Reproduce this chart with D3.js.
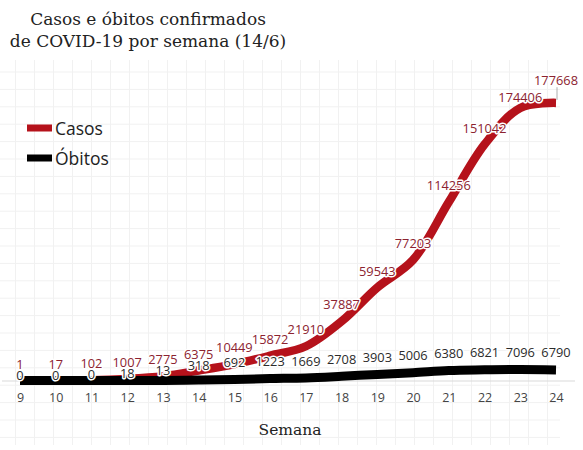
<!DOCTYPE html>
<html>
<head>
<meta charset="utf-8">
<script src="https://cdn.jsdelivr.net/npm/d3@7"></script>
<style>
  body { margin: 0; background: #fff; }
  svg { display: block; }
</style>
</head>
<body>
<div id="chart"></div>
<script>
// weekly data (epidemiological weeks 9 to 24)
const semanas = [9, 10, 11, 12, 13, 14, 15, 16, 17, 18, 19, 20, 21, 22, 23, 24];
const casos = [1, 17, 102, 1007, 2775, 6375, 10449, 15872, 21910, 37887, 59543, 77203, 114256, 151042, 174406, 177668];
const obitos = [0, 0, 0, 18, 13, 318, 692, 1223, 1669, 2708, 3903, 5006, 6380, 6821, 7096, 6790];

const width = 583, height = 450;

const svg = d3.select("#chart")
  .append("svg")
    .attr("width", width)
    .attr("height", height);

// faint background grid
const grid = svg.append("g").attr("stroke", "#f1f1f1").attr("stroke-width", 1);
grid.selectAll("line.v")
  .data(d3.range(15.5, 562, 19))
  .enter().append("line")
    .attr("x1", d => d).attr("x2", d => d)
    .attr("y1", 60).attr("y2", 445);
grid.selectAll("line.h")
  .data(d3.range(72, 446, 17.4))
  .enter().append("line")
    .attr("x1", 0).attr("x2", 560)
    .attr("y1", d => d).attr("y2", d => d);

// scales
const x = d3.scaleLinear()
  .domain([9, 24])
  .range([20, 556]);

const y = d3.scaleLinear()
  .domain([0, 200000])
  .range([380.5, 68]);

// x axis line + tick labels
svg.append("line")
  .attr("x1", 2).attr("x2", 575)
  .attr("y1", 381).attr("y2", 381)
  .attr("stroke", "#d9d9d9")
  .attr("stroke-width", 1.2);

const xAxis = svg.append("g")
  .attr("transform", "translate(0,390)")
  .call(d3.axisBottom(x).tickValues(semanas).tickFormat(d3.format("d")).tickSize(0));
xAxis.select(".domain").remove();
xAxis.selectAll("text")
  .attr("font-family", "Open Sans")
  .attr("font-size", 12.5)
  .attr("fill", "#444");

svg.append("text")
  .attr("x", 290).attr("y", 435)
  .attr("text-anchor", "middle")
  .attr("font-family", "DejaVu Serif")
  .attr("font-size", 15.5)
  .attr("fill", "#222")
  .text("Semana");

// lines
const line = d3.line()
  .x((d, i) => x(semanas[i]))
  .y(d => y(d))
  .curve(d3.curveCatmullRom.alpha(0.5));

svg.append("path")
  .datum(casos)
  .attr("fill", "none")
  .attr("stroke", "#b5121b")
  .attr("stroke-width", 8.5)
  .attr("d", line);

svg.append("path")
  .datum(obitos)
  .attr("fill", "none")
  .attr("stroke", "#000")
  .attr("stroke-width", 9)
  .attr("d", line);

// label positions for casos, with a simple overlap fix between neighbours
const casosPos = casos.map((v, i) => ({
  v: v, x: x(semanas[i]), y0: y(v) - 16.5, y: y(v) - 16.5,
  w: String(v).length * 6.6
}));
for (let i = 0; i < casosPos.length - 1; i++) {
  const a = casosPos[i], b = casosPos[i + 1];
  const overlap = (a.x + a.w / 2) - (b.x - b.w / 2);
  const gap = Math.abs(a.y - b.y);
  if (overlap > 2 && gap < 17.5) {
    const mid = (a.y + b.y) / 2;
    if (a.y >= b.y) { a.y = mid + 8.75; b.y = mid - 8.75; }
    else { a.y = mid - 8.75; b.y = mid + 8.75; }
  }
}

// obitos labels: pushed below the casos label when they collide
const obitosPos = obitos.map((v, i) => {
  let ly = y(v) - 17;
  const c = casosPos[i];
  if (Math.abs(ly - c.y) < 11) ly = c.y + 11;
  return { v: v, x: x(semanas[i]), y: ly };
});

// leader lines for moved labels
svg.selectAll("line.leader")
  .data(casosPos.filter(d => d.y0 - d.y > 3))
  .enter().append("line")
    .attr("x1", d => d.x + 1).attr("x2", d => d.x + 1)
    .attr("y1", d => d.y + 7).attr("y2", d => y(d.v) - 3)
    .attr("stroke", "#999")
    .attr("stroke-width", 0.8);

function drawLabels(data, color) {
  svg.append("g")
    .attr("font-family", "Open Sans")
    .attr("font-size", 12.8)
    .attr("text-anchor", "middle")
    .selectAll("text")
    .data(data)
    .enter().append("text")
      .attr("x", d => d.x).attr("y", d => d.y)
      .attr("dy", "0.36em")
      .attr("fill", color)
      .attr("stroke", "#fff")
      .attr("stroke-width", 3)
      .attr("stroke-linejoin", "round")
      .style("paint-order", "stroke")
      .text(d => d.v);
}
drawLabels(casosPos, "#8c2330");
drawLabels(obitosPos, "#2b2b2b");

// title
const title = svg.append("text")
  .attr("text-anchor", "middle")
  .attr("font-family", "DejaVu Serif")
  .attr("font-size", 17)
  .attr("fill", "#222");
title.append("tspan").attr("x", 148).attr("y", 25).text("Casos e óbitos confirmados");
title.append("tspan").attr("x", 148).attr("y", 47).text("de COVID-19 por semana (14/6)");

// legend
const legend = [
  { name: "Casos", color: "#b5121b", y: 128 },
  { name: "Óbitos", color: "#000", y: 158 }
];
const lg = svg.selectAll("g.legend")
  .data(legend)
  .enter().append("g");
lg.append("rect")
  .attr("x", 27).attr("y", d => d.y - 3.5)
  .attr("width", 25).attr("height", 7)
  .attr("fill", d => d.color);
lg.append("text")
  .attr("x", 55).attr("y", d => d.y + 6.5)
  .attr("font-family", "Open Sans")
  .attr("font-size", 17.5)
  .attr("fill", "#222")
  .text(d => d.name);
</script>
</body>
</html>
